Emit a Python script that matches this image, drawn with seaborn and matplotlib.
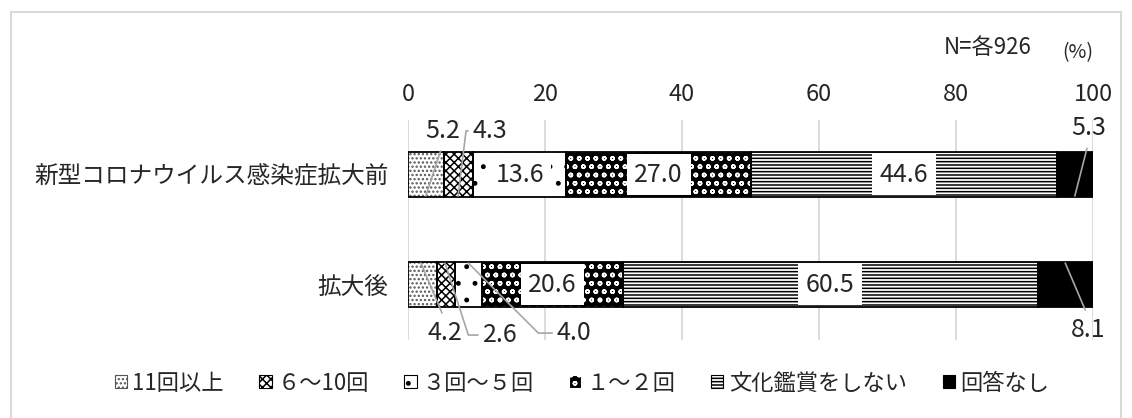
import numpy as np
import matplotlib
matplotlib.use("Agg")
import matplotlib.pyplot as plt
import seaborn as sns
from matplotlib.patches import Patch, Rectangle

# data (%)
categories = ["新型コロナウイルス感染症拡大前", "拡大後"]
series = ["11回以上", "６～10回", "３回～５回", "１～２回", "文化鑑賞をしない", "回答なし"]
before = [5.2, 4.3, 13.6, 27.0, 44.6, 5.3]
after = [4.2, 2.6, 4.0, 20.6, 60.5, 8.1]
xticks = [0, 20, 40, 60, 80, 100]
n_note = "N=各926"
unit_note = "(%)"

sns.set_style("white")
CJK = ["Noto Sans CJK JP", "DejaVu Sans"]
NUM = ["Noto Sans CJK JP", "DejaVu Sans"]
plt.rcParams["font.family"] = CJK
plt.rcParams["hatch.linewidth"] = 1.1

values = np.array([before, after])
cum = values.cumsum(axis=1)
starts = cum - values

# pattern for each series (black & white print style)
styles = [
    dict(facecolor="white", edgecolor="#555555", hatch="...."),
    dict(facecolor="white", edgecolor="black", hatch="xxxx"),
    dict(facecolor="white", edgecolor="black", hatch="."),
    dict(facecolor="black", edgecolor="white", hatch="oo"),
    dict(facecolor="white", edgecolor="black", hatch="-----"),
    dict(facecolor="black", edgecolor="black", hatch=None),
]
bar_h = 0.41

fig = plt.figure(figsize=(11.32, 4.18), dpi=100)
ax = fig.add_axes([408 / 1132, 1 - 339.5 / 418, 685 / 1132, 220 / 418])

# stacked bars: draw cumulative totals from the last series backwards
for i in reversed(range(len(series))):
    sns.barplot(x=cum[:, i], y=categories, orient="y", width=bar_h, ax=ax,
                errorbar=None, linewidth=0, **styles[i])

# black outlines of every segment
for i in range(len(series)):
    ax.barh(y=range(len(categories)), width=values[:, i], left=starts[:, i],
            height=bar_h, fill=False, edgecolor="black", linewidth=1.3)

ax.set_xlim(0, 100)
ax.set_ylim(1.5, -0.5)
ax.set_xticks(xticks)
ax.set_xlabel("")
ax.set_ylabel("")
ax.xaxis.tick_top()
ax.tick_params(axis="x", length=0, pad=10, labelsize=17)
ax.tick_params(axis="y", length=0, pad=14, labelsize=17)
ax.grid(axis="x", color="#d9d9d9", linewidth=1.3)
ax.set_axisbelow(True)
for sp in ax.spines.values():
    sp.set_visible(False)

# labels inside the wide segments
for r in range(len(categories)):
    for i in range(len(series)):
        v = values[r, i]
        if v >= 10:
            ax.text(starts[r, i] + v / 2, r, f"{v:.1f}", ha="center", va="center",
                    fontsize=18, family=NUM,
                    bbox=dict(boxstyle="square,pad=0.3", fc="white", ec="none"))

# callouts for the narrow segments: (row, series) -> frac, edge, dx, dy, angleB
callouts = {
    (0, 0): (0.5, "bottom", 17, 65, None),
    (0, 1): (0.49, "bottom", 32, 65, 83),
    (0, 5): (0.5, "bottom", 14, 68, None),
    (1, 0): (0.45, "top", 24, -70, None),
    (1, 1): (0.46, "top", 55, -72, -72),
    (1, 2): (0.5, "top", 106, -70, -45),
    (1, 5): (0.5, "top", 23, -67, None),
}
for (r, i), (frac, edge, dx, dy, angb) in callouts.items():
    x0 = starts[r, i] + values[r, i] * frac
    y0 = r + (bar_h / 2 - 0.01 if edge == "bottom" else -bar_h / 2 + 0.01)
    if angb is None:
        ap = dict(arrowstyle="-", color="#a6a6a6", lw=1.2, shrinkA=3, shrinkB=0,
                  relpos=(0.5, 0) if dy > 0 else (0.5, 1))
    else:
        ap = dict(arrowstyle="-", color="#a6a6a6", lw=1.2, shrinkA=1, shrinkB=0,
                  relpos=(0, 0.5),
                  connectionstyle=f"angle,angleA=0,angleB={angb},rad=0")
    ax.annotate(f"{values[r, i]:.1f}", xy=(x0, y0), xytext=(dx, dy),
                textcoords="offset pixels", ha="center", va="center",
                fontsize=18, family=NUM, arrowprops=ap, annotation_clip=False)

fig.text(988 / 1132, 1 - 48 / 418, n_note, ha="center", va="center",
         fontsize=16, family=NUM)
fig.text(1078 / 1132, 1 - 53 / 418, unit_note, ha="center", va="center",
         fontsize=14, family=CJK)

handles = [Patch(linewidth=0.8, **st) for st in styles]
fig.legend(handles, series, loc="center", bbox_to_anchor=(582 / 1132, 1 - 383 / 418),
           ncol=6, frameon=False, handlelength=0.55, handleheight=0.55,
           handletextpad=0.25, columnspacing=1.6, prop={"family": CJK, "size": 16})

fig.add_artist(Rectangle((11 / 1132, -0.05), 1110 / 1132, (418 - 12) / 418 + 0.05,
                         transform=fig.transFigure, fill=False,
                         edgecolor="#d9d9d9", linewidth=1.5))

fig.savefig("out.png", dpi=100)
